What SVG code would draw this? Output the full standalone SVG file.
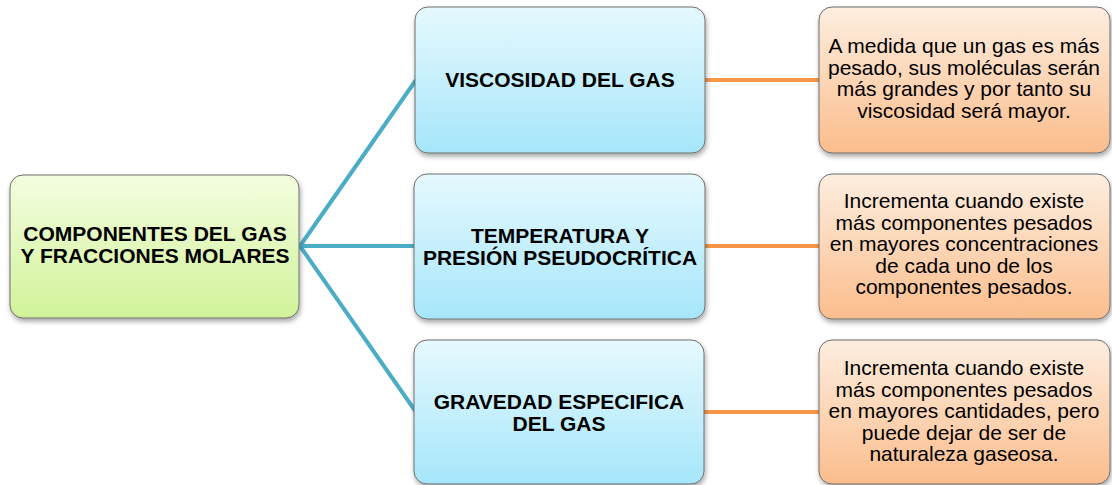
<svg xmlns="http://www.w3.org/2000/svg" width="1112" height="485" viewBox="0 0 1112 485">
<defs>
<linearGradient id="gG" x1="0" y1="0" x2="0" y2="1"><stop offset="0" stop-color="#f3fddf"/><stop offset="1" stop-color="#d2f39a"/></linearGradient>
<linearGradient id="gB" x1="0" y1="0" x2="0" y2="1"><stop offset="0" stop-color="#e6f9fe"/><stop offset="1" stop-color="#a6e6fa"/></linearGradient>
<linearGradient id="gO" x1="0" y1="0" x2="0" y2="1"><stop offset="0" stop-color="#fdeee0"/><stop offset="1" stop-color="#fbbd8c"/></linearGradient>
<filter id="sh" x="-10%" y="-10%" width="125%" height="130%"><feDropShadow dx="1" dy="3" stdDeviation="2.5" flood-color="#000" flood-opacity="0.35"/></filter>
</defs>
<style>
.box{stroke:#6f6f6f;stroke-width:1;filter:url(#sh)}
.t{font-family:"Liberation Sans",Arial,sans-serif;fill:#000;text-anchor:middle}
.b{font-weight:bold;font-size:21px}
.n{font-size:21px}
.cb{stroke:#4bacc6;stroke-width:4;fill:none}
.co{stroke:#f79646;stroke-width:4;fill:none}
</style>
<rect width="1112" height="485" fill="#fff"/>
<g id="connectors">
<line class="cb" x1="300" y1="246" x2="416" y2="80"/>
<line class="cb" x1="300" y1="246" x2="416" y2="246"/>
<line class="cb" x1="300" y1="246" x2="416" y2="412"/>
<line class="co" x1="704" y1="80" x2="820" y2="80"/>
<line class="co" x1="704" y1="246" x2="820" y2="246"/>
<line class="co" x1="704" y1="412" x2="820" y2="412"/>
</g>
<g id="n-root">
<rect class="box" x="10" y="175" width="289" height="143" rx="13" fill="url(#gG)"/>
<text class="t b" x="155" y="241">COMPONENTES DEL GAS</text>
<text class="t b" x="155" y="262.5">Y FRACCIONES MOLARES</text>
</g>
<g id="n-visc">
<rect class="box" x="415" y="7" width="290" height="146" rx="13" fill="url(#gB)"/>
<text class="t b" x="560" y="87">VISCOSIDAD DEL GAS</text>
</g>
<g id="n-temp">
<rect class="box" x="414" y="174" width="291" height="145" rx="13" fill="url(#gB)"/>
<text class="t b" x="560" y="243">TEMPERATURA Y</text>
<text class="t b" x="560" y="264.5">PRESIÓN PSEUDOCRÍTICA</text>
</g>
<g id="n-grav">
<rect class="box" x="414" y="340" width="290" height="144" rx="13" fill="url(#gB)"/>
<text class="t b" x="559" y="409">GRAVEDAD ESPECIFICA</text>
<text class="t b" x="559" y="430.5">DEL GAS</text>
</g>
<g id="d-visc">
<rect class="box" x="819" y="7" width="291" height="146" rx="13" fill="url(#gO)"/>
<text class="t n" x="964" y="53">A medida que un gas es más</text>
<text class="t n" x="964" y="74.5">pesado, sus moléculas serán</text>
<text class="t n" x="964" y="96">más grandes y por tanto su</text>
<text class="t n" x="964" y="117.5">viscosidad será mayor.</text>
</g>
<g id="d-temp">
<rect class="box" x="819" y="174" width="291" height="145" rx="13" fill="url(#gO)"/>
<text class="t n" x="964" y="208">Incrementa cuando existe</text>
<text class="t n" x="964" y="229.5">más componentes pesados</text>
<text class="t n" x="964" y="251">en mayores concentraciones</text>
<text class="t n" x="964" y="272.5">de cada uno de los</text>
<text class="t n" x="964" y="294">componentes pesados.</text>
</g>
<g id="d-grav">
<rect class="box" x="819" y="340" width="291" height="144" rx="13" fill="url(#gO)"/>
<text class="t n" x="964" y="375">Incrementa cuando existe</text>
<text class="t n" x="964" y="396.5">más componentes pesados</text>
<text class="t n" x="964" y="418">en mayores cantidades, pero</text>
<text class="t n" x="964" y="439.5">puede dejar de ser de</text>
<text class="t n" x="964" y="461">naturaleza gaseosa.</text>
</g>
</svg>
